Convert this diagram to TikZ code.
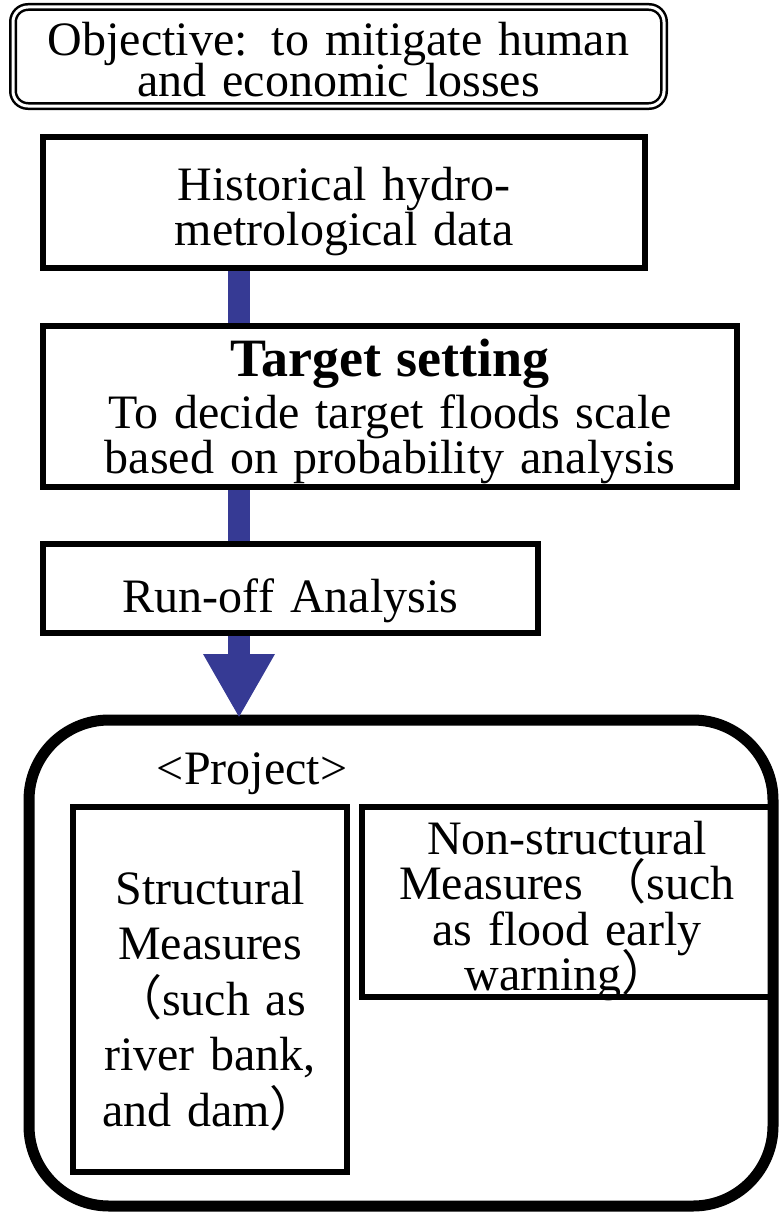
\documentclass[tikz,border=0pt]{standalone}
\usepackage{fontspec}
\setmainfont{Liberation Serif}
\newfontfamily\cjk{Noto Sans CJK SC}
\usetikzlibrary{arrows.meta}
\definecolor{flowblue}{RGB}{54,58,148}
\newcommand{\boxfont}[1]{\fontsize{48}{#1}\selectfont\lineskiplimit=-50pt}
\begin{document}
\begin{tikzpicture}[x=1pt,y=-1pt,
	box/.style={draw,line width=6pt,inner sep=0pt,outer sep=0pt,align=center,text height=40pt,font=\boxfont{45}},
	bar/.style={flowblue,line width=22pt}]
	\useasboundingbox (0,0) rectangle (780,1215);
	\node[draw,double,line width=2.5pt,double distance=3pt,rounded corners=15pt,inner sep=0pt,outer sep=0pt,
		minimum width=651pt,minimum height=99pt,text width=640pt,align=center,
		text height=40pt,text depth=41pt,font=\boxfont{41}] (obj) at (338.5,56.5)
		{Objective: to mitigate human\\and economic losses};
	\node[box,minimum width=602pt,minimum height=131pt,text width=590pt,text depth=45pt] (hist) at (344,202.5)
		{Historical hydro-\\metrological data};
	\node[box,minimum width=694pt,minimum height=161pt,text width=690pt,text depth=101pt] (target) at (390,406.5)
		{{\bfseries\fontsize{54}{54}\selectfont Target setting}\\[7pt]To decide target floods scale\\based on probability analysis};
	\node[box,minimum width=495pt,minimum height=89pt,text width=480pt,text height=50pt,text depth=3pt] (runoff) at (290.5,588.5)
		{Run-off Analysis};
	\node[draw,line width=11pt,outer sep=0pt,rounded corners=80pt,minimum width=744pt,minimum height=486pt] (project) at (401,963) {};
	\node[font=\boxfont{45},anchor=base] (projlabel) at (252,784) {<Project>};
	\node[box,minimum width=274pt,minimum height=365pt,text width=268pt,text depth=211pt,font=\boxfont{55.5}] (struct) at (210,989.5)
		{Structural\\Measures\\{\cjk （}such as\\river bank,\\and dam{\cjk ）}};
	\node[box,minimum width=410pt,minimum height=190pt,text width=404pt,text depth=136pt,font=\boxfont{45.5}] (nonstruct) at (567,902)
		{Non-structural\\Measures\ {\cjk （}such\\as flood early\\warning{\cjk ）}};
	\coordinate (axis) at (239,0);
	\draw[bar,shorten <=3pt,shorten >=3pt] (hist.south -| axis) -- (target.north -| axis);
	\draw[bar,shorten <=3pt,shorten >=3pt] (target.south -| axis) -- (runoff.north -| axis);
	\draw[bar,shorten <=3pt,shorten >=2pt,-{Triangle[width=67pt,length=64pt]}] (runoff.south -| axis) -- (project.north -| axis);
\end{tikzpicture}
\end{document}
